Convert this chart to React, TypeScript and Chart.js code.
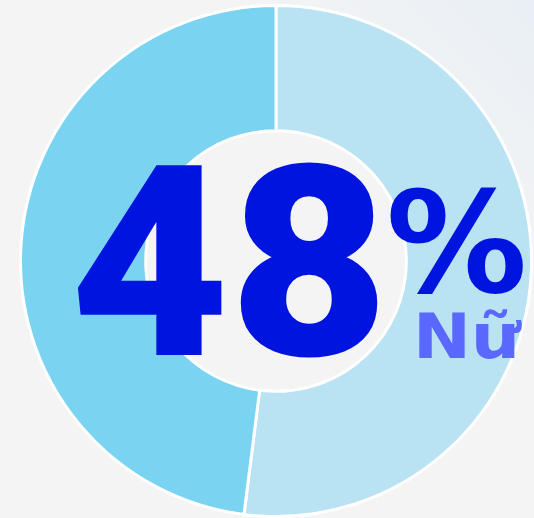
import React, { useEffect, useRef } from "react";
import { Chart, registerables } from "chart.js";

Chart.register(...registerables);

const labels = ["Nam", "Nữ"];
const values = [52, 48];
const colors = ["#b9e3f3", "#7bd3f2"];
const bigNumber = "48";
const percentSign = "%";
const caption = "Nữ";

const textPlugin = {
  id: "centerText",
  afterDraw(chart: any) {
    const ctx = chart.ctx;
    ctx.save();
    ctx.textAlign = "left";
    ctx.textBaseline = "alphabetic";
    ctx.fillStyle = "#0014e0";
    ctx.save();
    ctx.translate(70, 355);
    ctx.scale(1.03, 1);
    ctx.font = "900 267px Roboto";
    ctx.fillText(bigNumber, 0, 0);
    ctx.restore();
    ctx.font = "bold 141px 'DejaVu Sans'";
    ctx.fillText(percentSign, 386, 292);
    ctx.fillStyle = "#5a68ff";
    ctx.save();
    ctx.translate(413, 358);
    ctx.scale(1.1, 1);
    ctx.font = "bold 63px 'DejaVu Sans'";
    ctx.fillText(caption, 0, 0);
    ctx.restore();
    ctx.restore();
  },
};

export default function App() {
  const ref = useRef<HTMLCanvasElement>(null);
  useEffect(() => {
    const chart = new Chart(ref.current!, {
      type: "doughnut",
      data: {
        labels,
        datasets: [
          {
            data: values,
            backgroundColor: colors,
            borderColor: "#ffffff",
            borderWidth: 3,
          },
        ],
      },
      options: {
        animation: false,
        responsive: false,
        cutout: "51%",
        layout: { padding: { left: 19, right: 1, top: 4, bottom: 0 } },
        plugins: { legend: { display: false }, tooltip: { enabled: false } },
      },
      plugins: [textPlugin],
    });
    return () => chart.destroy();
  }, []);
  return (
    <div
      style={{
        position: "fixed",
        left: 0,
        top: 0,
        width: 534,
        height: 518,
        overflow: "hidden",
        background: "linear-gradient(225deg, #e9eff5 0%, #f4f4f4 30%, #f4f4f4 100%)",
      }}
    >
      <canvas ref={ref} width={534} height={518} style={{ display: "block" }} />
    </div>
  );
}
